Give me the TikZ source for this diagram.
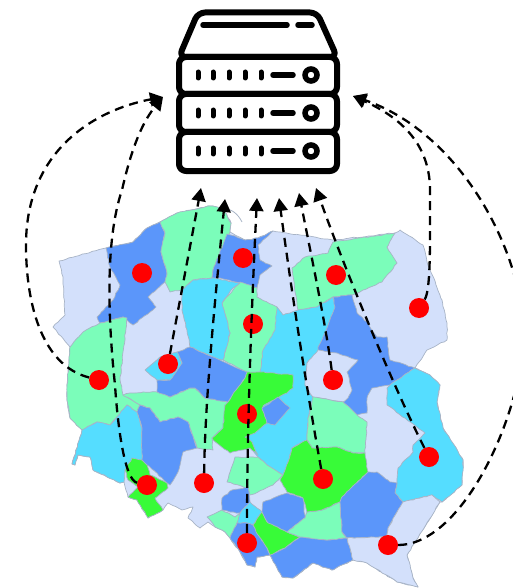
\documentclass[tikz,border=0pt]{standalone}
\usetikzlibrary{arrows.meta,decorations.pathmorphing}
\definecolor{mpale}{HTML}{D3E0FB}
\definecolor{mblue}{HTML}{5B96FA}
\definecolor{mmint}{HTML}{7BFDBA}
\definecolor{mcyan}{HTML}{55DDFF}
\definecolor{mgreen}{HTML}{38FB38}
\definecolor{mline}{HTML}{A8B4C6}
\tikzset{
  region/.style={draw=mline,line width=0.7pt,line join=round,decorate,decoration={random steps,segment length=3.5pt,amplitude=0.5pt}},
  rpale/.style={region,fill=mpale},
  rblue/.style={region,fill=mblue},
  rmint/.style={region,fill=mmint},
  rcyan/.style={region,fill=mcyan},
  rgreen/.style={region,fill=mgreen},
  site/.style={circle,fill=red,draw=none,minimum size=20pt,inner sep=0pt},
  link/.style={draw=black,line width=2.3pt,dash pattern=on 9pt off 6pt,-{Triangle[length=13pt,width=14pt]}},
  srv/.style={draw=black,line width=6pt,rounded corners=7pt,line join=round},
  srvbar/.style={draw=black,line width=5.5pt,line cap=round},
  led/.style={draw=black,line width=5pt,line cap=round},
  knob/.style={draw=black,line width=5.5pt,circle,minimum size=12pt,inner sep=0pt}
}
\begin{document}
\begin{tikzpicture}[x=1pt,y=-1pt]
\useasboundingbox (0,0) rectangle (513,588);
\clip (0,0) rectangle (513,588);
% ---------- map: whole outline first ----------
\draw[rpale] (59,261)--(106,248)--(133,242)--(147,228)--(160,222)--(177,213)--(210,206)--(223,208)--(231,223)--(230,232)--(245,240)--(258,238)--(273,231)--(333,240)--(395,233)--(400,230)--(423,245)--(427,262)--(442,300)--(447,323)--(447,340)--(427,350)--(415,368)--(430,375)--(440,385)--(437,402)--(443,428)--(462,458)--(463,460)--(462,485)--(442,502)--(440,502)--(407,555)--(413,578)--(418,587)--(397,582)--(367,563)--(353,560)--(332,570)--(313,563)--(293,578)--(282,577)--(270,555)--(257,557)--(255,567)--(247,565)--(240,552)--(230,538)--(225,532)--(215,527)--(208,522)--(200,528)--(188,518)--(193,507)--(182,510)--(168,503)--(163,510)--(148,518)--(137,500)--(128,497)--(124,482)--(120,483)--(93,470)--(90,457)--(78,455)--(75,465)--(72,464)--(82,430)--(70,418)--(67,400)--(67,385)--(70,347)--(53,327)--(65,315)--(63,277)--cycle;
\draw[rblue] (106,248)--(133,242)--(147,228)--(160,222)--(165,233)--(161,252)--(167,273)--(165,282)--(148,297)--(156,307)--(133,325)--(123,317)--(100,323)--(97,317)--(113,300)--(120,285)--(110,267)--cycle;
\draw[draw=mline,line width=0.8pt] (223,208) .. controls (232,209) and (238,214) .. (242,222);
\draw[rmint] (160,222)--(177,213)--(210,206)--(223,208)--(231,223)--(230,232)--(227,237)--(213,270)--(212,278)--(193,280)--(182,290)--(170,292)--(165,282)--(167,273)--(161,252)--(165,233)--cycle;
\draw[rblue] (227,234)--(235,236)--(245,240)--(258,238)--(273,231)--(258,245)--(260,260)--(272,266)--(260,275)--(257,288)--(240,283)--(220,278)--(212,278)--(213,270)--cycle;
\draw[rmint] (333,242)--(395,233)--(387,247)--(397,263)--(382,282)--(352,295)--(333,297)--(317,307)--(298,310)--(292,268)--(305,257)--(328,253)--cycle;
\draw[rcyan] (277,307)--(283,315)--(298,310)--(317,307)--(333,297)--(340,320)--(325,345)--(318,352)--(307,363)--(305,385)--(313,397)--(308,418)--(307,440)--(292,448)--(288,462)--(283,475)--(267,465)--(258,457)--(250,448)--(240,430)--(255,395)--(258,365)--(262,340)--cycle;
\draw[rblue] (352,295)--(333,297)--(335,307)--(325,333)--(318,347)--(318,380)--(343,402)--(357,415)--(367,413)--(367,398)--(372,388)--(390,385)--(397,380)--(415,368)--(390,360)--(387,337)--(377,337)--(367,322)--(357,313)--cycle;
\draw[rpale] (307,363)--(318,350)--(337,353)--(358,360)--(347,372)--(352,390)--(348,398)--(343,402)--(313,397)--(305,385)--cycle;
\draw[rmint] (240,282)--(257,288)--(257,297)--(277,307)--(275,330)--(263,350)--(260,372)--(247,372)--(223,360)--(230,333)--(222,303)--cycle;
\draw[rcyan] (182,290)--(193,280)--(212,278)--(240,283)--(233,288)--(222,303)--(230,333)--(223,360)--(213,357)--(190,347)--(187,330)--(182,310)--cycle;
\draw[rmint] (70,347)--(83,332)--(100,323)--(123,317)--(127,318)--(120,380)--(123,395)--(127,397)--(140,405)--(137,412)--(127,405)--(110,425)--(97,422)--(82,430)--(70,418)--(67,400)--(67,385)--cycle;
\draw[rcyan] (127,405)--(137,412)--(142,428)--(142,460)--(125,470)--(124,482)--(120,483)--(93,470)--(90,457)--(78,455)--(75,465)--(72,464)--(82,430)--(97,422)--(110,425)--cycle;
\draw[rmint] (123,395)--(130,393)--(143,392)--(160,392)--(170,397)--(190,388)--(195,388)--(205,398)--(228,402)--(225,405)--(223,428)--(212,438)--(213,450)--(197,448)--(188,422)--(178,417)--(160,422)--(150,408)--(140,405)--cycle;
\draw[rblue] (177,352)--(190,347)--(213,357)--(247,372)--(245,378)--(236,390)--(228,402)--(205,398)--(195,388)--(190,388)--(170,397)--(157,392)--(157,380)--(170,380)--(182,363)--cycle;
\draw[rcyan] (145,370)--(160,357)--(177,352)--(182,363)--(170,380)--(157,380)--cycle;
\draw[rblue] (137,412)--(140,405)--(150,408)--(160,422)--(178,417)--(188,422)--(197,448)--(183,452)--(178,472)--(170,485)--(147,465)--(142,460)--(142,428)--cycle;
\draw[rgreen] (125,470)--(132,458)--(142,460)--(147,465)--(150,475)--(167,483)--(168,488)--(155,498)--(163,510)--(148,518)--(137,500)--(128,497)--(138,487)--(128,480)--cycle;
\draw[rgreen] (228,402)--(236,390)--(245,378)--(247,372)--(260,372)--(293,375)--(293,388)--(287,393)--(263,406)--(267,423)--(255,433)--(245,437)--(252,442)--(258,455)--(250,448)--(230,453)--(213,440)--(212,438)--(223,428)--(225,405)--cycle;
\draw[rblue] (262,408)--(270,403)--(278,397)--(290,408)--(275,425)--(267,423)--cycle;
\draw[rmint] (235,457)--(258,457)--(267,465)--(283,475)--(273,485)--(258,492)--(250,495)--(247,488)--(227,482)--cycle;
\draw[rblue] (222,498)--(232,490)--(248,487)--(250,502)--(240,513)--(230,512)--(222,510)--cycle;
\draw[rcyan] (237,523)--(240,513)--(250,502)--(257,508)--(262,512)--(253,525)--(247,523)--cycle;
\draw[rmint] (207,517)--(222,510)--(235,517)--(240,513)--(237,523)--(230,538)--(225,532)--(215,527)--cycle;
\draw[rblue] (237,523)--(247,523)--(253,525)--(258,535)--(267,548)--(270,555)--(257,557)--(255,567)--(247,565)--(240,552)--(230,538)--cycle;
\draw[rblue] (263,502)--(287,493)--(303,498)--(305,518)--(287,532)--(268,523)--(262,512)--cycle;
\draw[rblue] (300,537)--(327,540)--(347,538)--(353,560)--(332,570)--(313,563)--(293,578)--(282,577)--(270,555)--(285,548)--cycle;
\draw[rgreen] (262,512)--(268,523)--(287,532)--(300,537)--(285,548)--(270,555)--(267,548)--(258,535)--(253,525)--cycle;
\draw[rmint] (287,532)--(305,518)--(307,512)--(322,510)--(340,502)--(342,532)--(347,538)--(327,540)--(300,537)--cycle;
\draw[rmint] (313,397)--(343,402)--(357,415)--(367,422)--(365,453)--(353,453)--(337,447)--(312,448)--(307,440)--(308,418)--cycle;
\draw[rgreen] (292,448)--(307,440)--(312,448)--(337,447)--(353,453)--(365,453)--(368,472)--(342,497)--(340,502)--(322,510)--(307,512)--(303,498)--(287,492)--(280,480)--(283,475)--(288,462)--cycle;
\draw[rcyan] (415,368)--(430,375)--(440,385)--(437,402)--(443,428)--(462,458)--(463,460)--(462,485)--(442,502)--(432,495)--(403,502)--(395,493)--(397,483)--(398,468)--(413,452)--(413,445)--(425,433)--(387,405)--(387,388)--(390,385)--(397,380)--cycle;
\draw[rblue] (342,497)--(368,472)--(377,472)--(390,482)--(397,483)--(395,493)--(403,502)--(388,528)--(387,537)--(347,538)--(342,532)--(340,502)--cycle;
\draw[rpale] (347,538)--(387,537)--(388,528)--(403,502)--(432,495)--(440,502)--(407,555)--(413,578)--(418,587)--(397,582)--(367,563)--(353,560)--cycle;
% ---------- server ----------
\draw[srv] (179,57) -- (198,12.5) -- (317,12.5) -- (337,57) -- cycle;
\draw[srv] (179,57) rectangle (337,94);
\draw[srv] (179,94) rectangle (337,132);
\draw[srv] (179,132) rectangle (337,171);
\draw[srvbar] (203,25) -- (287,25);
\draw[srvbar] (298,25) -- (312,25);
\foreach \yy in {75,113,151}{
  \foreach \xx in {198,213,229,245,261}{
    \draw[led] (\xx,\yy-3) -- (\xx,\yy+3);
  }
  \draw[srvbar] (273,\yy) -- (293,\yy);
  \node[knob] at (311,\yy) {};
}
% ---------- sites ----------
\node[site] (s1) at (142,273) {};
\node[site] (s2) at (243,258) {};
\node[site] (s3) at (336,275) {};
\node[site] (s4) at (419,308) {};
\node[site] (s5) at (253,324) {};
\node[site] (s6) at (168,364) {};
\node[site] (s7) at (333,380) {};
\node[site] (s8) at (99,380) {};
\node[site] (s9) at (247,414) {};
\node[site] (s10) at (429,457) {};
\node[site] (s11) at (323,479) {};
\node[site] (s12) at (204,483) {};
\node[site] (s13) at (147,485) {};
\node[site] (s14) at (247,543) {};
\node[site] (s15) at (388,545) {};
% ---------- arrow ends ----------
\coordinate (tl) at (163,97);
\coordinate (tr) at (353,96);
\coordinate (t1) at (201,188);
\coordinate (t2) at (225,199);
\coordinate (t3) at (257,198);
\coordinate (t4) at (279,198);
\coordinate (t5) at (299,193);
\coordinate (t6) at (316,188);
% ---------- connectors ----------
\draw[link] (s8) .. controls (40,365) and (26,300) .. (26,245) .. controls (26,150) and (95,110) .. (tl);
\draw[link] (s13) .. controls (125,480) and (118,430) .. (115,385) .. controls (108,320) and (105,240) .. (122,190) .. controls (130,155) and (140,125) .. (tl);
\draw[link] (s6) -- (t1);
\draw[link] (s12) .. controls (205,400) and (215,300) .. (t2);
\draw[link] (s14) .. controls (247,420) and (252,300) .. (t3);
\draw[link] (s11) .. controls (305,380) and (290,280) .. (t4);
\draw[link] (s7) .. controls (325,320) and (310,250) .. (t5);
\draw[link] (s10) .. controls (395,390) and (345,270) .. (t6);
\draw[link] (s4) .. controls (431,290) and (430,240) .. (430,190) .. controls (430,140) and (395,115) .. (tr);
\draw[link] (s15) .. controls (450,545) and (500,460) .. (518,380) .. controls (545,300) and (480,140) .. (tr);
\end{tikzpicture}
\end{document}
